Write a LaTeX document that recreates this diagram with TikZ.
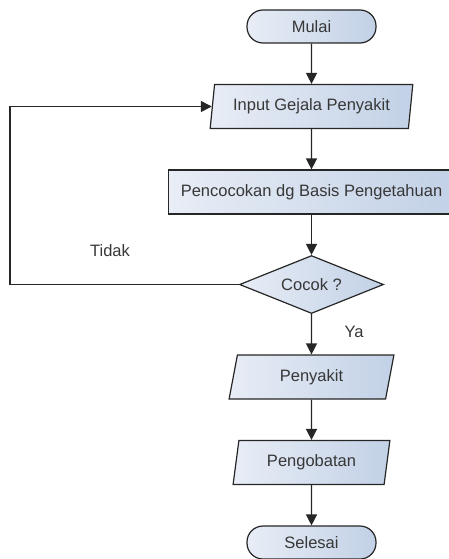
\documentclass[tikz,border=0pt]{standalone}
\usepackage{fontspec}
\setmainfont{Liberation Sans}
\usepackage{tikz}
\usetikzlibrary{arrows.meta,shapes.geometric,positioning}
\definecolor{flowlight}{RGB}{232,237,246}
\definecolor{flowdark}{RGB}{194,209,230}
\definecolor{flowtext}{RGB}{55,55,55}

\begin{document}
\begin{tikzpicture}[
    x=1pt, y=-1pt,
    node distance=40.3pt,
    font=\fontsize{16.5}{19}\selectfont,
    every node/.style={text=flowtext},
    terminal/.style={rectangle, rounded corners=16pt, draw=black!85, line width=1.2pt, left color=flowlight, right color=flowdark, minimum width=129pt, minimum height=33pt},
    io/.style={trapezium, trapezium left angle=77, trapezium right angle=103, trapezium stretches=true, draw=black!85, line width=1.2pt, left color=flowlight, right color=flowdark, minimum height=44pt, inner sep=0pt},
    process/.style={rectangle, draw=black!85, line width=1.2pt, left color=flowlight, right color=flowdark, minimum width=286pt, minimum height=44pt},
    decision/.style={diamond, shape aspect=2.48, draw=black!85, line width=1.2pt, left color=flowlight, right color=flowdark, minimum width=144pt, minimum height=58pt, inner sep=0pt},
    arrow/.style={-{Triangle[length=11pt,width=11pt]}, line width=1.4pt, draw=black!85}
]
    \useasboundingbox (0,0) rectangle (449,559);
    \node[terminal] (mulai) at (311.5,26.5) {Mulai};
    \node[io, minimum width=203pt, below=of mulai] (input) {Input Gejala Penyakit};
    \node[process, below=of input] (cocokkan) {Pencocokan dg Basis Pengetahuan};
    \node[decision, below=of cocokkan] (cocok) {Cocok ?};
    \node[io, minimum width=165pt, below=of cocok] (penyakit) {Penyakit};
    \node[io, minimum width=157pt, below=of penyakit] (obat) {Pengobatan};
    \node[terminal, below=of obat] (selesai) {Selesai};
    \draw[arrow] (mulai) -- (input);
    \draw[arrow] (input) -- (cocokkan);
    \draw[arrow] (cocokkan) -- (cocok);
    \draw[arrow] (cocok) -- (penyakit);
    \draw[arrow] (penyakit) -- (obat);
    \draw[arrow] (obat) -- (selesai);
    \draw[arrow] (cocok.west) -- ++(-229,0) |- (input.west);
    \node (tidak) at (110,251) {Tidak};
    \node (ya) at (354,332) {Ya};
\end{tikzpicture}
\end{document}
